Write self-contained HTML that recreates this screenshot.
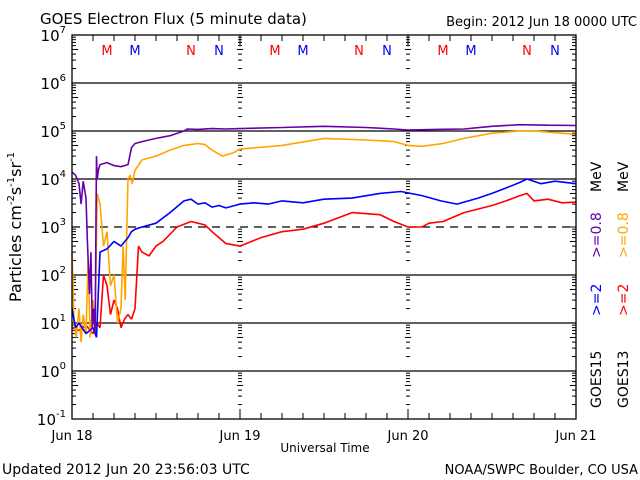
<!DOCTYPE html>
<html><head><meta charset="utf-8"><style>
html,body{margin:0;padding:0;background:#fff;}
svg{display:block;font-family:"DejaVu Sans","Liberation Sans",sans-serif;}
</style></head><body>
<svg id="c" width="640" height="480" viewBox="0 0 640 480">
<text x="40" y="24" font-size="15">GOES Electron Flux (5 minute data)</text>
<text x="637" y="26" font-size="13" text-anchor="end">Begin: 2012 Jun 18 0000 UTC</text>
<text x="325" y="452" font-size="12" text-anchor="middle">Universal Time</text>
<text x="2" y="474" font-size="14">Updated 2012 Jun 20 23:56:03 UTC</text>
<text x="638" y="474" font-size="13" text-anchor="end">NOAA/SWPC Boulder, CO USA</text>
<text transform="translate(21,227) rotate(-90)" font-size="16" text-anchor="middle">Particles cm<tspan font-size="10" dy="-7">-2</tspan><tspan dy="7">s</tspan><tspan font-size="10" dy="-7">-1</tspan><tspan dy="7">sr</tspan><tspan font-size="10" dy="-7">-1</tspan></text>
<g id="plot"></g>
<g font-size="14">
<text transform="translate(601,408) rotate(-90)">GOES15</text>
<text transform="translate(601,316) rotate(-90)" fill="#0000ff">&gt;=2</text>
<text transform="translate(601,258) rotate(-90)" fill="#6600aa">&gt;=0.8</text>
<text transform="translate(601,192) rotate(-90)">MeV</text>
<text transform="translate(628,408) rotate(-90)">GOES13</text>
<text transform="translate(628,316) rotate(-90)" fill="#ff0000">&gt;=2</text>
<text transform="translate(628,258) rotate(-90)" fill="#ffa500">&gt;=0.8</text>
<text transform="translate(628,192) rotate(-90)">MeV</text>
</g>
</svg>
<script>
// Data (hours since 2012 Jun 18 00:00 UTC, flux)
const dayLabels = ["Jun 18","Jun 19","Jun 20","Jun 21"];
const decadeExps = [-1,0,1,2,3,4,5,6,7];
const purpleHours = [0,0.5,1,1.3,1.6,2,2.2,2.5,2.7,2.9,3.1,3.3,3.5,3.6,3.8,4,5,6,7,8,8.5,9,10,12,14,16,16.5,18,20,22,24,30,36,42,46,48,52,56,60,64,68,72];
const purpleVals = [14000,12000,8000,3000,9000,4000,500,40,300,8,20,6,30000,10000,16000,20000,22000,19000,18000,20000,45000,55000,60000,70000,80000,100000,110000,108000,112000,110000,112000,118000,125000,118000,110000,105000,108000,110000,125000,135000,132000,130000];
const orangeHours = [0,0.3,0.6,1,1.3,1.6,2,2.3,2.6,3,3.3,3.6,4,4.5,5,5.5,6,6.5,7,7.3,7.6,8,8.3,8.6,9,10,12,14,16,18,19,20,21.5,23,24,30,36,42,46,48,50,53,56,60,64,66,68,70,72];
const orangeVals = [300,10,5,20,4,15,6,200,5,30,8,5000,3000,400,800,60,100,10,20,400,30,10000,12000,8000,15000,25000,30000,40000,50000,55000,52000,40000,30000,35000,42000,50000,70000,65000,60000,50000,48000,55000,70000,90000,100000,100000,95000,90000,85000];
const blueHours = [0,0.5,1,2,3,3.5,4,5,6,7,8,8.5,9,10,12,14,16,17,18,19,20,21,22,24,26,28,30,33,36,40,44,47,50,52.7,55,58,60,62,64,65,67,69,72];
const blueVals = [20,8,10,6,8,5,300,350,500,400,600,800,900,1000,1200,2000,3500,3800,3000,3200,2600,2800,2500,3000,3200,3000,3500,3200,3800,4000,5000,5500,4500,3500,3000,4000,5000,6500,8500,10000,8000,9000,8000];
const redHours = [0,1,2,3,3.5,4,4.5,5,5.5,6,6.5,7,7.5,8,8.5,9,9.5,10,11,12,13,15,17,18,19,20,21,22,24,27,30,33,36,40,44,46,48,50,51,53,56,60,62,64,65,66,68,70,72];
const redVals = [8,7,9,6,10,8,100,60,15,30,20,8,12,15,12,20,400,300,250,400,500,1000,1300,1200,1100,800,600,450,400,600,800,900,1200,2000,1800,1300,1000,1000,1200,1300,2000,2800,3500,4500,5000,3500,3800,3200,3300];

const NS="http://www.w3.org/2000/svg";
const L=72,R=576,T=35,B=419;
const xs=h=>L+h*(R-L)/72;
const ys=v=>T+(7-Math.log10(v))*48;
const ye=e=>T+(7-e)*48;
const g=document.getElementById('plot');
function mk(tag,attrs,parent){const e=document.createElementNS(NS,tag);for(const k in attrs)e.setAttribute(k,attrs[k]);(parent||g).appendChild(e);return e;}

// gridlines
decadeExps.forEach(e=>{
  if(e>-1&&e<7){
    const ln=mk('line',{x1:L,x2:R,y1:ye(e),y2:ye(e),stroke:'#000','stroke-width':1.3,'stroke-dasharray':e===3?'8,6':'none'});
    
    
  }
  const t=mk('text',{x:L-6,y:ye(e)+6,'font-size':15,'text-anchor':'end'});
  
  
  t.textContent='10';
  const s=mk('tspan',{'font-size':10,dy:-8},t);s.textContent=String(e);
});
// minor ticks on left, right, and day boundaries
const minorX=[[L,1],[R,-1],[xs(24),0],[xs(48),0]];
decadeExps.forEach(e=>{
  if(e===7)return;
  for(let m=2;m<=9;m++){
    const y=ye(e)-Math.log10(m)*48;
    minorX.forEach(([x,d])=>{
      const len=(m===5)?6:4;
      if(d===0)mk('line',{x1:x-len/2,x2:x+len/2,y1:y,y2:y,stroke:'#000','stroke-width':1});
      else mk('line',{x1:x,x2:x+d*len,y1:y,y2:y,stroke:'#000','stroke-width':1});
    });
  }
  [[L,1],[R,-1]].forEach(([x,d])=>mk('line',{x1:x,x2:x+d*8,y1:ye(e),y2:ye(e),stroke:'#000'}));
});
// x ticks
for(let h=0;h<=72;h+=3){
  const x=xs(h),len=(h%24===0)?10:6;
  mk('line',{x1:x,x2:x,y1:B,y2:B-len,stroke:'#000'});
  mk('line',{x1:x,x2:x,y1:T,y2:T+len,stroke:'#000'});
}
dayLabels.forEach((d,i)=>{
  const t=mk('text',{x:xs(i*24),y:440,'font-size':13,'text-anchor':'middle'});
  
  
  t.textContent=d;
});
// M/N markers
const marks=[["M",5,"#ff0000"],["M",9,"#0000ff"],["N",17,"#ff0000"],["N",21,"#0000ff"]];
for(let d=0;d<3;d++)marks.forEach(([c,h,col])=>{
  const t=mk('text',{x:xs(d*24+h),y:55,'font-size':13,'text-anchor':'middle',fill:col});
  
  
  t.textContent=c;
});
// series
function series(hs,vs,col,name){
  let d='';
  hs.forEach((h,i)=>{d+=(i?'L':'M')+xs(h).toFixed(1)+','+ys(vs[i]).toFixed(1);});
  const p=mk('path',{d:d,fill:'none',stroke:col,'stroke-width':1.6,'stroke-linejoin':'bevel'});
  
  
}
series(redHours,redVals,'#ff0000','series-goes13-2mev');
series(orangeHours,orangeVals,'#ffa500','series-goes13-08mev');
series(blueHours,blueVals,'#0000ff','series-goes15-2mev');
series(purpleHours,purpleVals,'#6600aa','series-goes15-08mev');
// frame
const f=mk('rect',{x:L,y:T,width:R-L,height:B-T,fill:'none',stroke:'#000','stroke-width':1.3});


</script>
</body></html>
